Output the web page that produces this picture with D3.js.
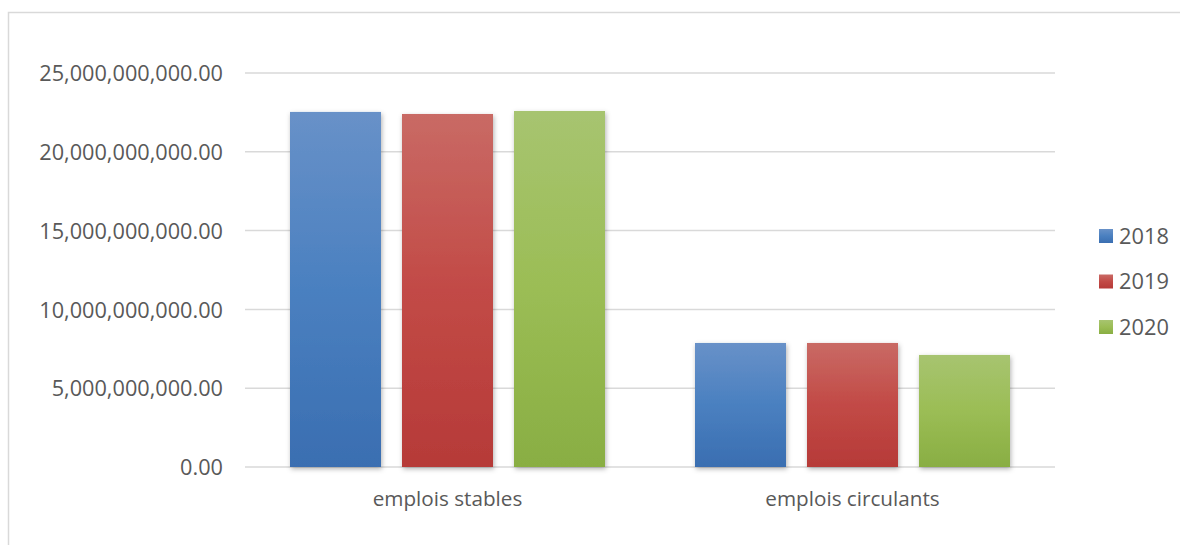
<!DOCTYPE html>
<html lang="fr">
<head>
<meta charset="UTF-8">
<title>Emplois</title>
<style>
body { margin: 0; background: #fff; }
svg { display: block; font-family: "Open Sans", sans-serif; }
.grid line { stroke: #d9d9d9; stroke-width: 1.5px; }
.tick text { fill: #595959; }
</style>
</head>
<body>
<script src="https://cdn.jsdelivr.net/npm/d3@7"></script>
<script>
var categories = ["emplois stables", "emplois circulants"];
var years = ["2018", "2019", "2020"];
var values2018 = [22.53e9, 7.87e9];
var values2019 = [22.40e9, 7.87e9];
var values2020 = [22.59e9, 7.11e9];
var yTicks = [0, 5e9, 10e9, 15e9, 20e9, 25e9];

var series = [values2018, values2019, values2020];
var colors = [
    { top: "#6891c8", mid: "#4a80c0", bot: "#3a6eb1" },
    { top: "#c96a65", mid: "#c24a46", bot: "#b63a38" },
    { top: "#a7c470", mid: "#9bbd55", bot: "#89ae43" }
];

var width = 1180, height = 545;
var plot = { left: 245, right: 1055, top: 73, bottom: 467 };

var svg = d3.select("body").append("svg")
    .attr("width", width)
    .attr("height", height);

var defs = svg.append("defs");
colors.forEach(function(c, i) {
    var g = defs.append("linearGradient")
        .attr("id", "grad" + i)
        .attr("x1", 0).attr("y1", 0).attr("x2", 0).attr("y2", 1);
    g.append("stop").attr("offset", "0%").attr("stop-color", c.top);
    g.append("stop").attr("offset", "50%").attr("stop-color", c.mid);
    g.append("stop").attr("offset", "100%").attr("stop-color", c.bot);
});
defs.append("filter")
    .attr("id", "shadow")
    .attr("x", "-20%").attr("y", "-20%").attr("width", "140%").attr("height", "140%")
    .append("feDropShadow")
    .attr("dx", 1).attr("dy", 2).attr("stdDeviation", 2.5)
    .attr("flood-color", "#000").attr("flood-opacity", 0.3);

// chart frame
svg.append("rect")
    .attr("x", 8.5).attr("y", 12.5)
    .attr("width", 1200).attr("height", 600)
    .attr("fill", "#fff")
    .attr("stroke", "#d9d9d9")
    .attr("stroke-width", 1.5);

var y = d3.scaleLinear().domain([0, 25e9]).range([plot.bottom, plot.top]);
var x0 = d3.scaleBand().domain(categories).range([plot.left, plot.right]).padding(0);
var x1 = d3.scaleBand().domain(years).range([0, x0.bandwidth()])
    .paddingInner(0.1875).paddingOuter(0.4018);

// gridlines
svg.append("g")
    .attr("class", "grid")
    .selectAll("line")
    .data(yTicks)
    .enter().append("line")
    .attr("x1", plot.left).attr("x2", plot.right)
    .attr("y1", function(d) { return y(d); })
    .attr("y2", function(d) { return y(d); });

// y axis labels
var yAxis = svg.append("g")
    .attr("transform", "translate(" + (plot.left - 22) + ",0)")
    .call(d3.axisLeft(y).tickValues(yTicks).tickFormat(d3.format(",.2f")).tickSize(0).tickPadding(0));
yAxis.select(".domain").remove();
yAxis.selectAll("text").attr("font-size", "21.7px").attr("font-family", "Open Sans").attr("dy", "0.35em");

// bars
var groups = svg.append("g").selectAll("g")
    .data(categories)
    .enter().append("g")
    .attr("transform", function(d) { return "translate(" + x0(d) + ",0)"; });

groups.selectAll("rect")
    .data(function(d, ci) {
        return years.map(function(yr, si) { return { year: yr, si: si, value: series[si][ci] }; });
    })
    .enter().append("rect")
    .attr("x", function(d) { return x1(d.year); })
    .attr("width", x1.bandwidth())
    .attr("y", function(d) { return y(d.value); })
    .attr("height", function(d) { return y(0) - y(d.value); })
    .attr("fill", function(d) { return "url(#grad" + d.si + ")"; })
    .attr("filter", "url(#shadow)");

// x axis labels
var xAxis = svg.append("g")
    .attr("transform", "translate(0," + plot.bottom + ")")
    .call(d3.axisBottom(x0).tickSize(0).tickPadding(24));
xAxis.select(".domain").remove();
xAxis.selectAll("text").attr("font-size", "20.7px").attr("font-family", "Open Sans");

// legend
var legend = svg.append("g").selectAll("g")
    .data(years)
    .enter().append("g")
    .attr("transform", function(d, i) { return "translate(1099," + (236 + i * 45.5) + ")"; });
legend.append("rect")
    .attr("x", 0).attr("y", -7)
    .attr("width", 14).attr("height", 14)
    .attr("fill", function(d, i) { return "url(#grad" + i + ")"; });
legend.append("text")
    .attr("x", 20).attr("dy", "0.35em")
    .attr("font-size", "21.8px")
    .attr("fill", "#595959")
    .text(function(d) { return d; });
</script>
</body>
</html>
